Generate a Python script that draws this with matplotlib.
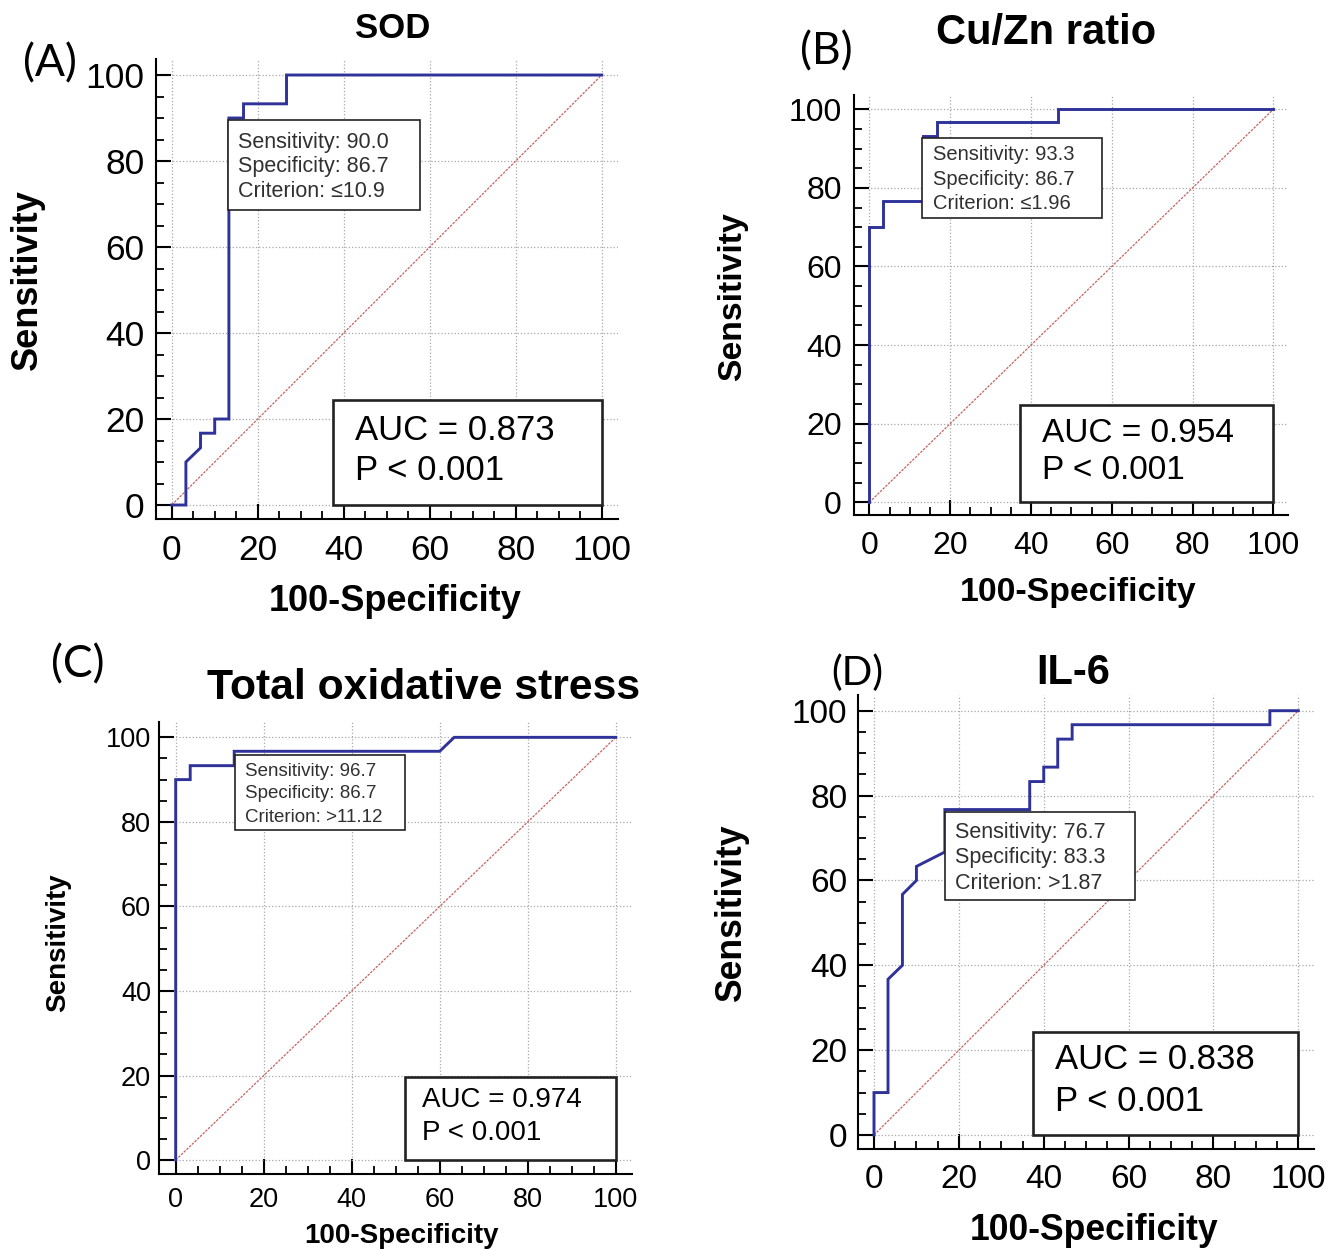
import numpy as np
import matplotlib
matplotlib.use('Agg')
import matplotlib.pyplot as plt
import matplotlib.patches as patches
from matplotlib.ticker import MultipleLocator

plt.rcParams['font.family'] = ['Liberation Sans', 'DejaVu Sans']

W, H = 1341, 1249

titles = ['SOD', 'Cu/Zn ratio', 'Total oxidative stress', 'IL-6']
panel_tags = ['(A)', '(B)', '(C)', '(D)']

# ROC curves (100-specificity, sensitivity)
sod_fpr = [0, 3.3, 3.3, 6.7, 6.7, 10, 10, 13.3, 13.3, 16.7, 16.7, 26.7, 26.7, 100]
sod_tpr = [0, 0, 10, 13.3, 16.7, 16.7, 20, 20, 90, 90, 93.3, 93.3, 100, 100]

cuzn_fpr = [0, 0, 3.3, 3.3, 13.3, 13.3, 16.7, 16.7, 46.7, 46.7, 100]
cuzn_tpr = [0, 70, 70, 76.7, 76.7, 93.3, 93.3, 96.7, 96.7, 100, 100]

tos_fpr = [0, 0, 3.3, 3.3, 13.3, 13.3, 60, 63.3, 100]
tos_tpr = [0, 90, 90, 93.3, 93.3, 96.7, 96.7, 100, 100]

il6_fpr = [0, 0, 3.3, 3.3, 6.7, 6.7, 10, 10, 16.7, 16.7, 36.7, 36.7, 40, 40, 43.3, 43.3, 46.7, 46.7, 93.3, 93.3, 100]
il6_tpr = [0, 10, 10, 36.7, 40, 56.7, 60, 63.3, 66.7, 76.7, 76.7, 83.3, 83.3, 86.7, 86.7, 93.3, 93.3, 96.7, 96.7, 100, 100]

sensitivity = ['90.0', '93.3', '96.7', '76.7']
specificity = ['86.7', '86.7', '86.7', '83.3']
criterion = ['\u226410.9', '\u22641.96', '>11.12', '>1.87']
auc_values = ['0.873', '0.954', '0.974', '0.838']
p_values = ['< 0.001', '< 0.001', '< 0.001', '< 0.001']

curves = [(sod_fpr, sod_tpr), (cuzn_fpr, cuzn_tpr), (tos_fpr, tos_tpr), (il6_fpr, il6_tpr)]

# layout in pixels of the 1341x1249 picture, boxes in data units
layout = [
  dict(ax=(155.8, 59.1, 617.6, 519.2), tick=25.5, lab=26, title=25, title_xy=(393, 28),
       tag_xy=(50, 64), tag_size=32, xlab_xy=(395, 601), ylab_xy=(27, 280),
       info=(13.1, 68.6, 57.7, 89.5), info_x=15.4, info_y=(84.4, 78.8, 72.8), info_size=15.5,
       auc=(37.5, 0, 100, 24.4), auc_x=42.6, auc_y=(17.4, 8.1), auc_size=25, ypad=8, xpad=11),
  dict(ax=(854.4, 94.7, 1288.3, 515.3), tick=23, lab=24.3, title=30, title_xy=(1046, 33),
       tag_xy=(826, 52), tag_size=32, xlab_xy=(1078, 592), ylab_xy=(733, 297),
       info=(13, 72.3, 57.6, 92.7), info_x=15.8, info_y=(88.4, 82.0, 75.9), info_size=14.5,
       auc=(37.3, 0, 100, 24.8), auc_x=42.7, auc_y=(17.6, 8.2), auc_size=24, ypad=9, xpad=11),
  dict(ax=(159.4, 721.7, 632, 1174), tick=19.5, lab=20, title=30.7, title_xy=(424, 688),
       tag_xy=(78, 665), tag_size=32, xlab_xy=(402, 1236), ylab_xy=(58, 943),
       info=(13.5, 78, 52.1, 95.8), info_x=15.75, info_y=(92.0, 86.6, 81.1), info_size=13.5,
       auc=(52.1, 0, 100, 19.6), auc_x=56, auc_y=(14.2, 6.4), auc_size=20, ypad=6, xpad=9.5),
  dict(ax=(858.3, 695, 1314, 1149), tick=24, lab=25.6, title=30, title_xy=(1073, 673),
       tag_xy=(857, 673), tag_size=29, xlab_xy=(1094, 1230), ylab_xy=(732, 913),
       info=(16.7, 55.4, 61.5, 76.1), info_x=19.1, info_y=(71.4, 65.3, 59.2), info_size=15.5,
       auc=(37.5, 0, 100, 24.3), auc_x=42.7, auc_y=(17.7, 8.0), auc_size=25, ypad=8, xpad=11),
]

def fx(x):
  return x / W

def fy(y):
  return 1 - y / H

def draw_roc(fig, i):
  L = layout[i]
  l, t, r, b = L['ax']
  ax = fig.add_axes([fx(l), fy(b), (r - l) / W, (b - t) / H])
  ax.set_xlim(-3.7, 103.7)
  ax.set_ylim(-3.3, 103.7)

  for s in ['top', 'right']:
    ax.spines[s].set_visible(False)
  for s in ['left', 'bottom']:
    ax.spines[s].set_linewidth(1.5)

  ax.xaxis.set_major_locator(MultipleLocator(20))
  ax.yaxis.set_major_locator(MultipleLocator(20))
  ax.xaxis.set_minor_locator(MultipleLocator(5))
  ax.yaxis.set_minor_locator(MultipleLocator(5))
  ax.tick_params(which='major', direction='in', length=11, width=1.5, labelsize=L['tick'])
  ax.tick_params(which='minor', direction='in', length=5.5, width=1.3)
  ax.tick_params(axis='y', which='major', pad=L['ypad'])
  ax.tick_params(axis='x', which='major', pad=L['xpad'])
  ax.grid(True, which='major', color='#a8a8a8', linestyle=':', linewidth=0.9)

  ax.plot([0, 100], [0, 100], color='#c8625e', linestyle=(0, (2, 1)), linewidth=0.9, zorder=2)
  fpr, tpr = curves[i]
  ax.plot(fpr, tpr, color='#2f3399', linewidth=2.1, solid_joinstyle='miter', zorder=3)

  # criterion box
  x0, y0, x1, y1 = L['info']
  ax.add_patch(patches.Rectangle((x0, y0), x1 - x0, y1 - y0, facecolor='white',
                                 edgecolor='#222222', linewidth=1.2, zorder=5))
  lines = ['Sensitivity: ' + sensitivity[i], 'Specificity: ' + specificity[i],
           'Criterion: ' + criterion[i]]
  for txt, yy in zip(lines, L['info_y']):
    ax.text(L['info_x'], yy, txt, fontsize=L['info_size'], color='#303030',
            ha='left', va='center', zorder=6)

  # AUC box
  x0, y0, x1, y1 = L['auc']
  ax.add_patch(patches.Rectangle((x0, y0), x1 - x0, y1 - y0, facecolor='white',
                                 edgecolor='#222222', linewidth=1.9, zorder=5))
  ax.text(L['auc_x'], L['auc_y'][0], 'AUC = ' + auc_values[i], fontsize=L['auc_size'],
          ha='left', va='center', zorder=6)
  ax.text(L['auc_x'], L['auc_y'][1], 'P ' + p_values[i], fontsize=L['auc_size'],
          ha='left', va='center', zorder=6)

  ax.set_xlabel('100-Specificity', fontsize=L['lab'], fontweight='bold')
  ax.set_ylabel('Sensitivity', fontsize=L['lab'], fontweight='bold')
  ax.xaxis.set_label_coords(fx(L['xlab_xy'][0]), fy(L['xlab_xy'][1]), transform=fig.transFigure)
  ax.yaxis.set_label_coords(fx(L['ylab_xy'][0]), fy(L['ylab_xy'][1]), transform=fig.transFigure)
  ax.xaxis.label.set_verticalalignment('center')
  ax.yaxis.label.set_verticalalignment('center')

  fig.text(fx(L['title_xy'][0]), fy(L['title_xy'][1]), titles[i], fontsize=L['title'],
           fontweight='bold', ha='center', va='center')
  fig.text(fx(L['tag_xy'][0]), fy(L['tag_xy'][1]), panel_tags[i], fontsize=L['tag_size'],
           family=['Lato', 'DejaVu Sans'], ha='center', va='center')
  return ax

fig = plt.figure(figsize=(W / 100, H / 100), dpi=100)
for i in range(4):
  draw_roc(fig, i)

fig.savefig('out.png', dpi=100)
